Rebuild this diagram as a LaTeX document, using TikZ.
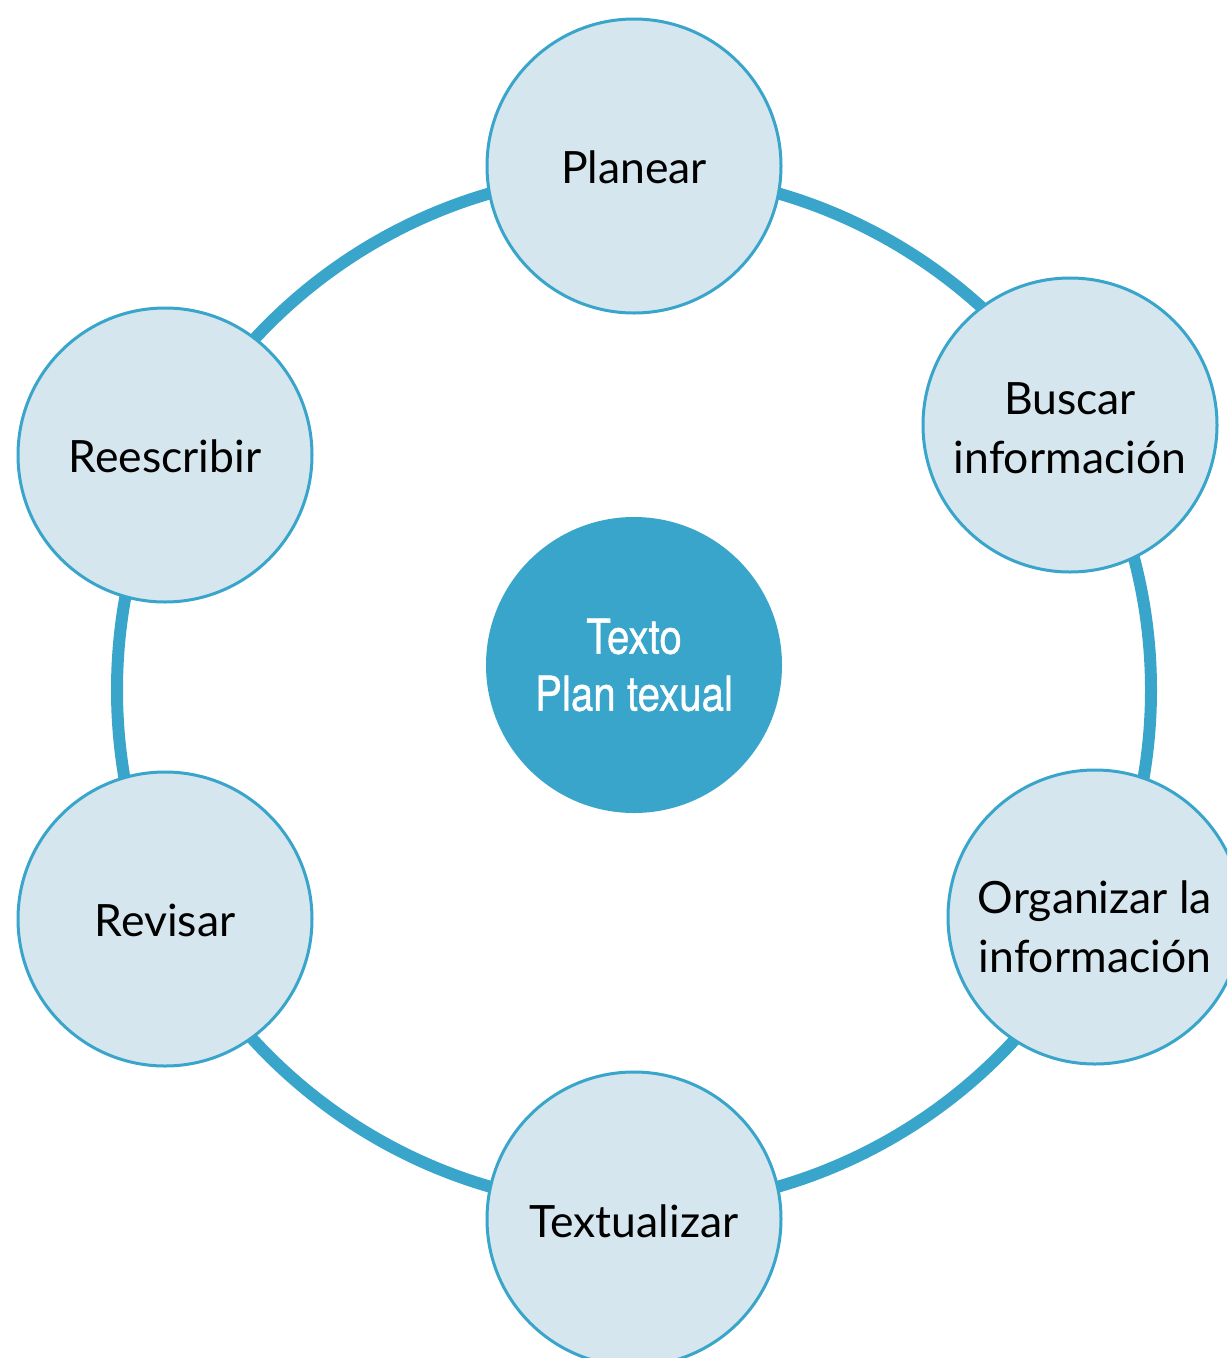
\documentclass[tikz,border=0pt]{standalone}
\usepackage{fontspec}
\newfontfamily\condfont[FakeStretch=0.84,FakeBold=0.8]{TeX Gyre Heros}
\newfontfamily\stepfont{Lato}
\definecolor{ringblue}{RGB}{57,165,203}
\definecolor{lightfill}{RGB}{213,230,238}
\tikzset{
  stepnode/.style={circle, draw=ringblue, line width=3pt, fill=lightfill, minimum size=294pt, inner sep=0pt},
  steptext/.style={align=center, inner sep=0pt, font=\stepfont\fontsize{44.5}{59}\selectfont, text=black},
  hubnode/.style={circle, fill=ringblue, minimum size=296pt, inner sep=0pt, align=center, font=\condfont\fontsize{48}{57}\selectfont, text=white},
  ringline/.style={draw=ringblue, line width=12pt}
}
\begin{document}
\begin{tikzpicture}[x=1pt,y=-1pt]
\clip (0,0) rectangle (1227,1358);
\fill[white] (0,0) rectangle (1227,1358);
\coordinate (ringc) at (634,690);
\draw[ringline] (ringc) circle (517pt);
\node[hubnode] (hub) at (634,665) {Texto\\Plan texual};
\node[stepnode] (planear) at (634,166) {};
\node[stepnode] (buscar) at (1070,425) {};
\node[stepnode] (organizar) at (1095,917) {};
\node[stepnode] (textualizar) at (634,1219) {};
\node[stepnode] (revisar) at (165,919) {};
\node[stepnode] (reescribir) at (165,455) {};
\node[steptext] (planear-t) at ([yshift=-1pt]planear.center) {Planear};
\node[steptext] (buscar-t) at ([yshift=-3pt]buscar.center) {Buscar\\información};
\node[steptext] (organizar-t) at ([yshift=-10pt]organizar.center) {Organizar la\\información};
\node[steptext] (textualizar-t) at ([yshift=-2pt]textualizar.center) {Textualizar};
\node[steptext] (revisar-t) at ([yshift=-1pt]revisar.center) {Revisar};
\node[steptext] (reescribir-t) at ([yshift=-1pt]reescribir.center) {Reescribir};
\end{tikzpicture}
\end{document}
